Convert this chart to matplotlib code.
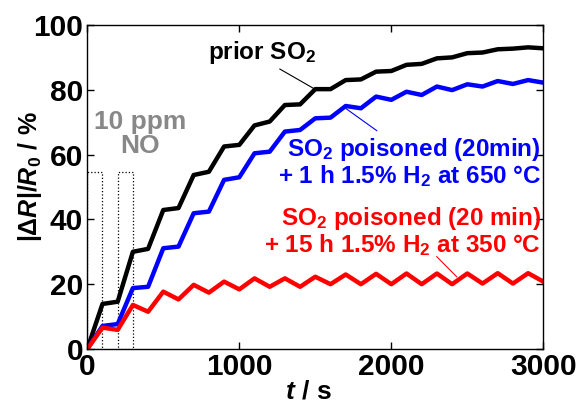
import numpy as np
import matplotlib
matplotlib.use("Agg")
import matplotlib.pyplot as plt
from matplotlib.patches import Rectangle

plt.rcParams['font.family'] = 'Liberation Sans'
plt.rcParams['font.weight'] = 'bold'
plt.rcParams['mathtext.fontset'] = 'custom'
plt.rcParams['mathtext.rm'] = 'Liberation Sans:bold'
plt.rcParams['mathtext.it'] = 'Liberation Sans:italic:bold'
plt.rcParams['mathtext.bf'] = 'Liberation Sans:bold'

# time axis, 100 s steps (NO pulses of 100 s on / 100 s off)
t = np.arange(0, 3001, 100)

prior_so2 = [0, 13.9, 14.6, 30.0, 30.9, 42.9, 43.5, 53.7, 54.7, 62.5, 63.0,
             69.0, 70.2, 75.3, 75.5, 80.2, 80.2, 83.0, 83.2, 85.6, 85.8,
             87.7, 88.0, 89.7, 90.0, 91.3, 91.5, 92.5, 92.7, 93.1, 92.8]
regen_650 = [0, 7.1, 7.7, 18.8, 19.2, 31.1, 31.6, 41.9, 42.4, 52.2, 53.0,
             60.4, 60.9, 67.1, 67.6, 71.2, 71.4, 75.0, 74.3, 77.9, 76.9,
             79.4, 78.4, 81.0, 79.9, 81.7, 81.0, 82.7, 81.8, 83.0, 82.2]
regen_350 = [0, 6.6, 5.9, 13.6, 11.5, 17.7, 15.3, 19.8, 17.4, 20.8, 18.4,
             21.8, 19.2, 21.8, 19.2, 22.3, 20.0, 23.0, 20.0, 23.2, 20.0,
             23.3, 20.0, 23.3, 20.0, 23.3, 20.2, 23.4, 20.2, 23.4, 20.8]

no_pulses = [(0, 100), (200, 300)]
pulse_height = 54.5

fig = plt.figure(figsize=(5.78, 4.03), dpi=100)
ax = fig.add_axes([0.151, 0.134, 0.789, 0.804])

ax.plot(t, prior_so2, color='black', lw=3.2)
ax.plot(t, regen_650, color='#0000ff', lw=3.2)
ax.plot(t, regen_350, color='#ff0000', lw=3.2)

for a, b in no_pulses:
    ax.add_patch(Rectangle((a, 0), b - a, pulse_height, fill=False,
                           ls=':', lw=0.9, ec='black'))

ax.text(1150, 91.5, 'prior SO$_2$', color='black', fontsize=17.5,
        ha='center', va='center')
ax.plot([1267, 1497], [86.4, 80.2], color='black', lw=0.8)

ax.text(2985, 57.6, 'SO$_2$ poisoned (20min)\n+ 1 h 1.5% H$_2$ at 650 °C',
        color='#0000ff', fontsize=17.5, ha='right', va='center', linespacing=1.0)
ax.plot([1684, 1904], [74.8, 67.4], color='#0000ff', lw=0.8)

ax.text(2985, 36.4, 'SO$_2$ poisoned (20 min)\n+ 15 h 1.5% H$_2$ at 350 °C',
        color='#ff0000', fontsize=17.5, ha='right', va='center', linespacing=1.0)
ax.plot([2299, 2430], [28.5, 22.3], color='#ff0000', lw=0.8)

ax.text(345, 66.5, '10 ppm\nNO', color='#888888', fontsize=19,
        ha='center', va='center', linespacing=1.0)

ax.set_xlim(0, 3000)
ax.set_ylim(0, 100)
ax.set_xticks([0, 1000, 2000, 3000])
ax.set_yticks([0, 20, 40, 60, 80, 100])
ax.tick_params(direction='in', top=True, right=True, labelsize=21.5,
               length=5, width=1, pad=3)
for s in ax.spines.values():
    s.set_linewidth(1.0)

ax.set_xlabel(r'$\mathit{t}\ \mathrm{/\ s}$', fontsize=19)
ax.set_ylabel(r'$\mathrm{|}\Delta\mathit{R}\mathrm{|/}\mathit{R}_\mathrm{0}\ \mathrm{/\ \%}$',
              fontsize=18)
ax.xaxis.set_label_coords(0.485, -0.095)
ax.yaxis.set_label_coords(-0.095, 0.532)

fig.savefig('out.png', dpi=100)
